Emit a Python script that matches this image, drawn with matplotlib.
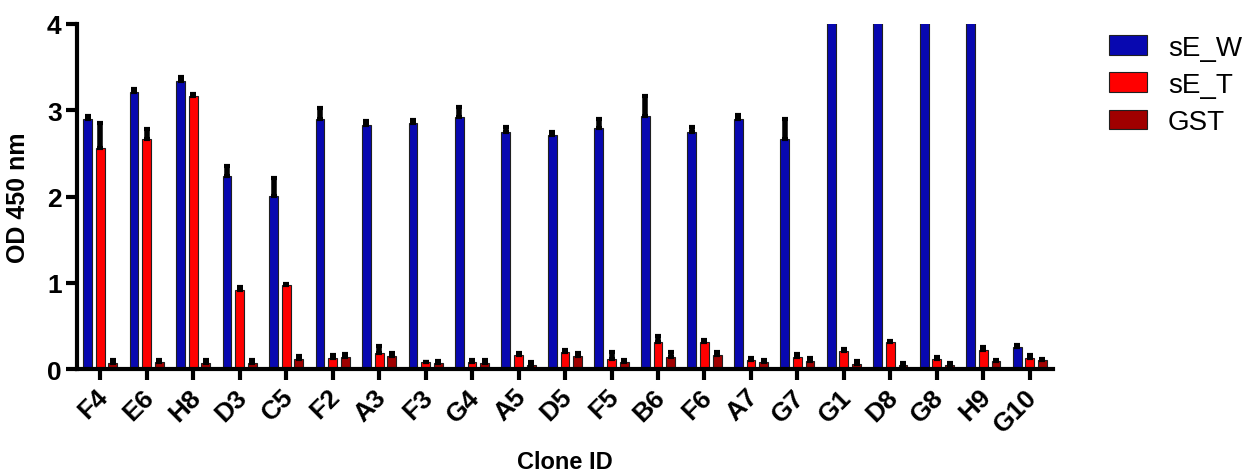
import numpy as np
import matplotlib
matplotlib.use("Agg")
import matplotlib.pyplot as plt
import matplotlib.transforms as mtransforms

plt.rcParams['font.family'] = ['Liberation Sans', 'DejaVu Sans']

# clone IDs and OD values (mean, upper SD)
clones = ["F4", "E6", "H8", "D3", "C5", "F2", "A3", "F3", "G4", "A5", "D5",
          "F5", "B6", "F6", "A7", "G7", "G1", "D8", "G8", "H9", "G10"]
sew_mean = [2.90, 3.21, 3.34, 2.24, 2.01, 2.90, 2.83, 2.85, 2.92, 2.75, 2.71,
            2.79, 2.93, 2.75, 2.90, 2.67, 4.30, 4.30, 4.30, 4.30, 0.25]
sew_err = [0.03, 0.04, 0.04, 0.11, 0.21, 0.13, 0.04, 0.04, 0.12, 0.05, 0.04,
           0.11, 0.23, 0.05, 0.04, 0.23, 0.0, 0.0, 0.0, 0.0, 0.03]
set_mean = [2.56, 2.67, 3.16, 0.92, 0.97, 0.13, 0.18, 0.08, 0.08, 0.16, 0.20,
            0.12, 0.31, 0.31, 0.10, 0.14, 0.21, 0.31, 0.12, 0.22, 0.13]
set_err = [0.29, 0.11, 0.03, 0.03, 0.02, 0.03, 0.09, 0.0, 0.03, 0.02, 0.02,
           0.08, 0.07, 0.03, 0.03, 0.03, 0.02, 0.02, 0.02, 0.03, 0.03]
gst_mean = [0.07, 0.08, 0.07, 0.07, 0.12, 0.14, 0.15, 0.07, 0.07, 0.05, 0.15,
            0.08, 0.14, 0.16, 0.08, 0.09, 0.06, 0.05, 0.05, 0.09, 0.10]
gst_err = [0.03, 0.03, 0.03, 0.03, 0.03, 0.03, 0.04, 0.02, 0.03, 0.03, 0.03,
           0.02, 0.06, 0.04, 0.03, 0.04, 0.03, 0.02, 0.02, 0.02, 0.02]

series = [("sE_W", sew_mean, sew_err, "#0808b0"),
          ("sE_T", set_mean, set_err, "#ff0000"),
          ("GST", gst_mean, gst_err, "#a00000")]

fig = plt.figure(figsize=(12.48, 4.77), dpi=100)
ax = fig.add_axes([0.0617, 0.2243, 0.7821, 0.7233])

x = np.arange(len(clones))
w = 0.19
off = 0.272
for i, (name, m, e, c) in enumerate(series):
    xs = x + (i - 1) * off
    ax.bar(xs, m, width=w, color=c, edgecolor="#202020", linewidth=0.8, label=name, zorder=2)
    m = np.array(m)
    e = np.array(e)
    ok = m < 4
    ax.errorbar(xs[ok], m[ok], yerr=[np.zeros(ok.sum()), e[ok]], fmt="none",
                ecolor="black", elinewidth=4, capsize=2.5, capthick=3, zorder=3)

ax.set_xlim(-0.5, 20.5)
ax.set_ylim(0, 4)
ax.set_yticks([0, 1, 2, 3, 4])
ax.set_xticks(x)
ax.set_xticklabels(clones, rotation=45, ha="right", rotation_mode="anchor")
for s in ["top", "right"]:
    ax.spines[s].set_visible(False)
for s in ["left", "bottom"]:
    ax.spines[s].set_linewidth(3)
ax.tick_params(axis="both", width=3, length=8, labelsize=19, pad=3)
shift = mtransforms.ScaledTranslation(-5 / 100, 0, fig.dpi_scale_trans)
for lab in ax.get_xticklabels():
    lab.set_fontweight("bold")
    lab.set_transform(lab.get_transform() + shift)
for lab in ax.get_yticklabels():
    lab.set_fontweight("bold")

ax.set_ylabel("OD 450 nm", fontsize=18, fontweight="bold", labelpad=12)
ax.set_xlabel("Clone ID", fontsize=17, fontweight="bold", labelpad=10)

fig.legend(loc="upper left", bbox_to_anchor=(0.889, 0.925), frameon=False,
           fontsize=20, handlelength=1.35, handleheight=0.7, handletextpad=0.75,
           labelspacing=0.4, borderpad=0, borderaxespad=0)

plt.savefig("out.png", dpi=100)
plt.close()
